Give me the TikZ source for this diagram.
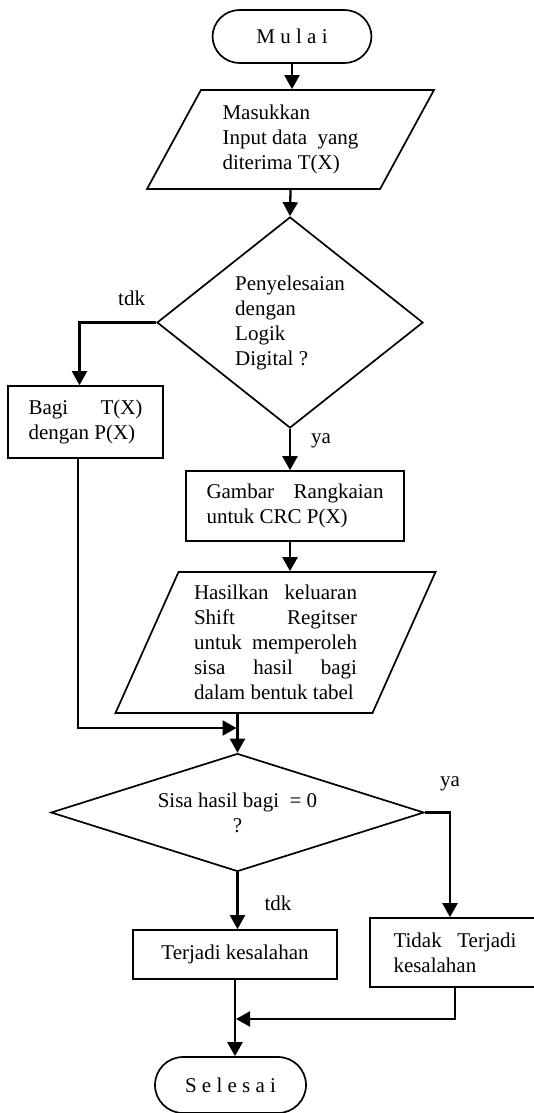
\documentclass[tikz,border=0pt]{standalone}
\usepackage{fontspec}
\setmainfont{Liberation Serif}
\usetikzlibrary{shapes.geometric,arrows.meta}
\tikzstyle{startstop} = [rectangle, rounded corners=13.5pt, minimum width=79.5pt, minimum height=26.5pt, text centered, draw=black, line width=0.85pt]
\tikzstyle{io} = [trapezium, trapezium left angle=61.4, trapezium right angle=118.6, minimum width=137.5pt, minimum height=49.5pt, align=flush left, draw=black, line width=0.85pt]
\tikzstyle{process} = [rectangle, minimum width=77.5pt, minimum height=36pt, align=flush left, draw=black, line width=0.85pt]
\tikzstyle{decision} = [diamond, inner sep=0pt, aspect=1.26, minimum width=133pt, minimum height=105.5pt, align=flush left, draw=black, line width=0.85pt]
\tikzstyle{note} = [inner sep=0pt]
\tikzstyle{arrow} = [line width=1.15pt,->,>={Triangle[length=7pt,width=7.5pt]}]

\begin{document}
\begin{tikzpicture}[x=0.5pt,y=-0.5pt,font=\fontsize{10.5pt}{12.5pt}\selectfont]
\useasboundingbox (0,0) rectangle (534,1113);
\node (start) [startstop] at (292,36.5) {M u l a i};
\node (in1) [io] at (290.5,139.5) {Masukkan\\Input data~ yang\\diterima T(X)};
\node (dec1) [decision] at (290,322.5) {Penyelesaian\\dengan\\Logik\\Digital ?};
\node (pro1) [process, text width=57pt] at (85.5,422) {Bagi\hfill T(X)\\dengan P(X)};
\node (pro2) [process, text width=88.5pt, minimum width=109pt, minimum height=35pt] at (295,506) {Gambar\hfill Rangkaian\\untuk CRC P(X)};
\node (in2) [io, trapezium left angle=65.9, trapezium right angle=114.1, minimum width=157.5pt, minimum height=70.5pt, text width=81.5pt] at (275.5,642.5) {Hasilkan\hfill keluaran\\Shift\hfill Regitser\\untuk\hfill memperoleh\\sisa\hfill hasil\hfill bagi\\dalam~bentuk~tabel};
\node (dec2) [decision, align=flush center, aspect=3.16, minimum width=186.5pt, minimum height=59pt] at (237.5,812.5) {Sisa hasil bagi~ = 0\\?};
\node (pro3) [process, align=flush center, minimum width=102pt, minimum height=24.5pt] at (235,954.5) {Terjadi kesalahan};
\node (pro4) [process, text width=61.5pt, minimum width=85pt, minimum height=34.5pt] at (455,952.5) {Tidak\hfill Terjadi\\kesalahan};
\node (stop) [startstop, minimum width=75.5pt, minimum height=28pt, rounded corners=14pt] at (230.5,1085) {S e l e s a i};
\coordinate (m1) at (236.5,728);
\coordinate (m2) at (236,1019);

\draw [arrow] (start.south) -- (start.south |- in1.north);
\draw [arrow] (in1.south) -- (dec1.north);
\draw [arrow] (dec1.west) -| node (tdk1) [note, pos=0.16, above=8pt] {tdk} ([xshift=-3pt]pro1.north);
\draw [arrow] (dec1.south) -- node (ya1) [note, pos=0.29, right=10pt] {ya} (dec1.south |- pro2.north);
\draw [arrow] (dec1.south |- pro2.south) -- (dec1.south |- in2.north);
\draw [arrow] (dec2.north |- in2.south) -- (dec2.north);
\draw [arrow] ([xshift=-3.75pt]pro1.south) |- (m1);
\draw [arrow] (dec2.east) -| node (ya2) [note, pos=0.5, above=10pt] {ya} ([xshift=-2.5pt]pro4.north);
\draw [arrow] (dec2.south) -- node (tdk2) [note, pos=0.54, right=13pt] {tdk} (dec2.south |- pro3.north);
\draw [arrow] (pro3.south) -- (pro3.south |- stop.north);
\draw [arrow] (pro4.south) |- (m2);
\end{tikzpicture}
\end{document}
